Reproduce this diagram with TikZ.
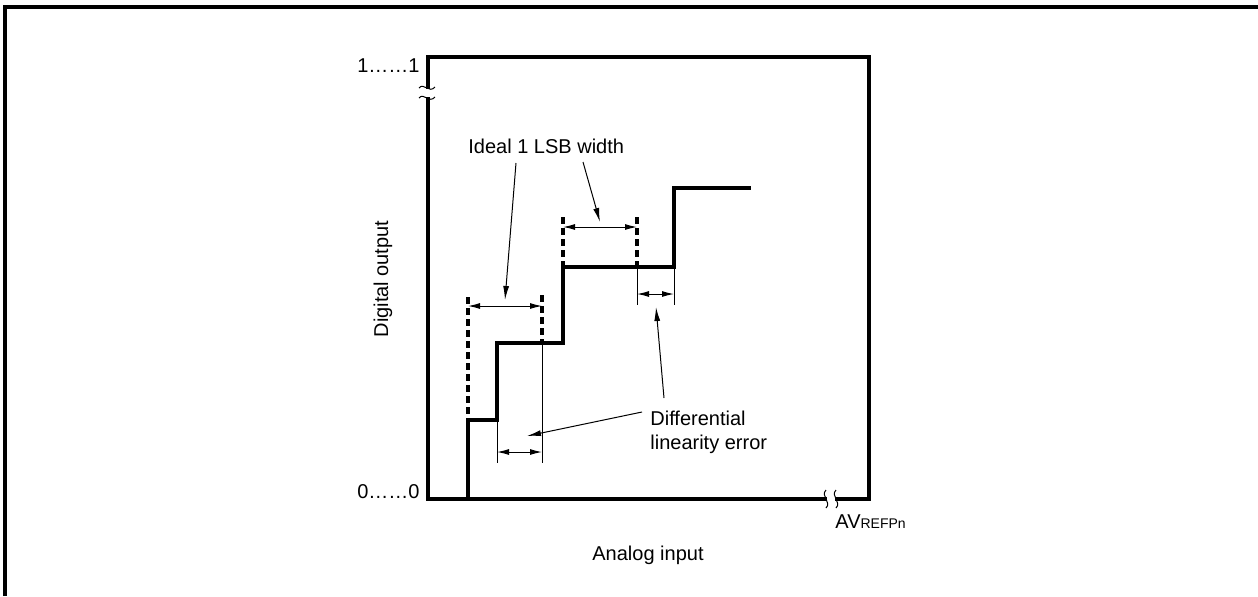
\documentclass[tikz,border=0pt]{standalone}
\usepackage{fontspec}
\setmainfont{Liberation Sans}
\usetikzlibrary{arrows.meta}
\begin{document}
\begin{tikzpicture}[x=0.5pt, y=-0.5pt,
  every node/.style={font=\fontsize{10}{12}\selectfont, inner sep=0pt},
  heavy/.style={line width=1.6pt},
  guide/.style={line width=1.6pt, dash pattern=on 3.5pt off 2pt},
  fine/.style={line width=0.5pt},
  dim/.style={line width=0.5pt, {Latex[length=6pt,width=3pt]}-{Latex[length=6pt,width=3pt]}},
  lead/.style={line width=0.5pt, -{Latex[length=7pt,width=3pt]}}]
\useasboundingbox (0,0) rectangle (1258,596);
\draw[heavy] (5,596) -- (5,7) -- (1258,7);

\coordinate (org) at (428,499);
\coordinate (corner) at (869,57);
\draw[heavy] (org) rectangle (corner);
\fill[white] (418,89) rectangle (438,97);
\fill[white] (827,494) rectangle (835,504);
\draw[fine] (419,88) .. controls (424,82) and (429,94) .. (435,87);
\draw[fine] (419,98) .. controls (424,92) and (429,104) .. (435,97);
\draw[fine] (826,490) .. controls (820,496) and (832,502) .. (826,508);
\draw[fine] (836,490) .. controls (830,496) and (842,502) .. (836,508);

\coordinate (s0) at (468,499);
\coordinate (s1) at (468,420);
\coordinate (s2) at (497,420);
\coordinate (s3) at (497,343);
\coordinate (s4) at (563,343);
\coordinate (s5) at (563,267);
\coordinate (s6) at (674,267);
\coordinate (s7) at (674,188);
\coordinate (s8) at (751,188);
\draw[heavy] (s0) -- (s1) -- (s2) -- (s3) -- (s4) -- (s5) -- (s6) -- (s7) -- (s8);

\coordinate (g1) at (468,297);
\coordinate (g2) at (542,295);
\coordinate (g2b) at (542,343);
\coordinate (g3) at (563,217);
\coordinate (g4) at (637,217);
\coordinate (g4b) at (637,267);
\draw[guide] (g1) -- (s1);
\draw[guide] (g2) -- (g2b);
\draw[guide] (g3) -- (s5);
\draw[guide] (g4) -- (g4b);

\coordinate (e1) at (497,463);
\coordinate (e2) at (542,463);
\coordinate (e3) at (637,305);
\coordinate (e4) at (674,305);
\draw[fine] (s2) -- (e1);
\draw[fine] (g2b) -- (e2);
\draw[fine] (g4b) -- (e3);
\draw[fine] (s6) -- (e4);

\draw[dim] (468,306) -- (542,306);
\draw[dim] (497,452) -- (542,452);
\draw[dim] (563,227) -- (637,227);
\draw[dim] (637,294) -- (674,294);

\node[anchor=base east] (one) at (420,72) {1……1};
\node[anchor=base east] (zero) at (420,498) {0……0};
\node[anchor=base west] (ref) at (835,528) {AV{\fontsize{7}{8}\selectfont REFPn}};
\node (xlab) at (648,555) {Analog input};
\node[rotate=90] (ylab) at (383,279) {Digital output};
\node[anchor=base west] (ideal) at (468,153) {Ideal 1 LSB width};
\node[anchor=north west, align=left] (dle) at (650,411) {Differential\\linearity error};

\coordinate (i1) at (516,163);
\coordinate (i2) at (583,162);
\coordinate (d1) at (664,398);
\coordinate (d2) at (642,412);
\draw[lead] (i1) -- (505,300);
\draw[lead] (i2) -- (600,222);
\draw[lead] (d1) -- (656,307);
\draw[lead] (d2) -- (527,436);
\end{tikzpicture}
\end{document}
